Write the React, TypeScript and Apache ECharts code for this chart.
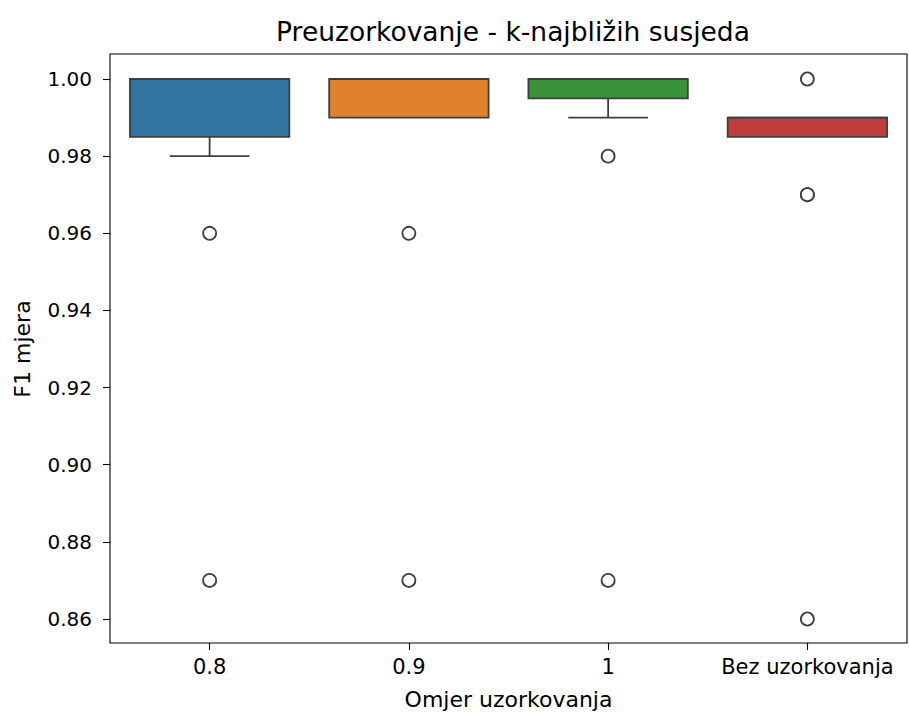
import React, { useEffect, useRef } from "react";
import * as echarts from "echarts";

const categories = ["0.8", "0.9", "1", "Bez uzorkovanja"];
// [lower whisker, Q1, median, Q3, upper whisker]
const lowerWhisker = [0.98, 0.99, 0.99, 0.985];
const q1Values = [0.985, 0.99, 0.995, 0.985];
const medianValues = [1.0, 1.0, 1.0, 0.99];
const q3Values = [1.0, 1.0, 1.0, 0.99];
const upperWhisker = [1.0, 1.0, 1.0, 0.99];
const outliers: number[][] = [
  [0.96, 0.87],
  [0.96, 0.87],
  [0.98, 0.87],
  [1.0, 0.97, 0.97, 0.86],
];
const yTicks = { min: 0.86, max: 1.0, step: 0.02 };

const palette = ["#3274a1", "#e1812c", "#3a923a", "#c03d3e"];
const edge = "#3f3f3f";
const font = "DejaVu Sans";

export default function App() {
  const ref = useRef<HTMLDivElement>(null);
  useEffect(() => {
    if (!ref.current) return;
    const chart = echarts.init(ref.current, undefined, { renderer: "svg" });
    const boxData = categories.map((_, i) => [
      i,
      lowerWhisker[i],
      q1Values[i],
      medianValues[i],
      q3Values[i],
      upperWhisker[i],
    ]);
    const outlierData: number[][] = [];
    outliers.forEach((vals, i) => vals.forEach((v) => outlierData.push([i, v])));

    const lw = 1.8;
    chart.setOption({
      animation: false,
      backgroundColor: "#ffffff",
      textStyle: { fontFamily: font, color: "#000" },
      title: {
        text: "Preuzorkovanje - k-najbližih susjeda",
        left: 508,
        top: 13,
        textAlign: "center",
        textStyle: { fontFamily: font, fontSize: 26.5, fontWeight: "normal", color: "#000" },
      },
      grid: [
        { left: 110, right: 2, top: 79, bottom: 96 },
        {
          left: 110,
          right: 2,
          top: 54,
          bottom: 68,
          show: true,
          borderColor: "#000",
          borderWidth: 1.1,
          backgroundColor: "transparent",
        },
      ],
      xAxis: [
        { type: "category", gridIndex: 0, data: categories, show: false },
        {
          type: "category",
          gridIndex: 1,
          data: categories,
          axisLine: { show: false },
          axisTick: { show: true, alignWithLabel: true, length: 7, lineStyle: { color: "#000", width: 1.1 } },
          axisLabel: { fontFamily: font, fontSize: 21, color: "#000", margin: 13, interval: 0 },
          name: "Omjer uzorkovanja",
          nameLocation: "middle",
          nameGap: 45,
          nameTextStyle: { fontFamily: font, fontSize: 22, color: "#000" },
        },
      ],
      yAxis: [
        {
          type: "value",
          gridIndex: 0,
          min: yTicks.min,
          max: yTicks.max,
          interval: yTicks.step,
          axisLine: { show: false },
          splitLine: { show: false },
          axisTick: { show: true, length: 7, lineStyle: { color: "#000", width: 1.1 } },
          axisLabel: {
            fontFamily: font,
            fontSize: 20,
            color: "#000",
            margin: 18,
            formatter: (v: number) => v.toFixed(2),
          },
          name: "F1 mjera",
          nameLocation: "middle",
          nameGap: 77,
          nameTextStyle: { fontFamily: font, fontSize: 22, color: "#000" },
        },
        { type: "value", gridIndex: 1, show: false, min: 0, max: 1 },
      ],
      series: [
        {
          type: "custom",
          xAxisIndex: 0,
          yAxisIndex: 0,
          clip: false,
          data: boxData,
          renderItem: (params: any, api: any) => {
            const idx = api.value(0);
            const lo = api.coord([idx, api.value(1)]);
            const q1 = api.coord([idx, api.value(2)]);
            const med = api.coord([idx, api.value(3)]);
            const q3 = api.coord([idx, api.value(4)]);
            const hi = api.coord([idx, api.value(5)]);
            const band = api.size([1, 0])[0];
            const bw = band * 0.8;
            const cw = band * 0.4;
            const x = lo[0];
            const lineStyle = { stroke: edge, lineWidth: lw };
            const children: any[] = [];
            if (Math.abs(lo[1] - q1[1]) > 0.5) {
              children.push({ type: "line", shape: { x1: x, y1: q1[1], x2: x, y2: lo[1] }, style: lineStyle });
              children.push({ type: "line", shape: { x1: x - cw / 2, y1: lo[1], x2: x + cw / 2, y2: lo[1] }, style: lineStyle });
            }
            if (Math.abs(hi[1] - q3[1]) > 0.5) {
              children.push({ type: "line", shape: { x1: x, y1: q3[1], x2: x, y2: hi[1] }, style: lineStyle });
              children.push({ type: "line", shape: { x1: x - cw / 2, y1: hi[1], x2: x + cw / 2, y2: hi[1] }, style: lineStyle });
            }
            children.push({
              type: "rect",
              shape: { x: x - bw / 2, y: q3[1], width: bw, height: q1[1] - q3[1] },
              style: { fill: palette[params.dataIndex % palette.length], stroke: edge, lineWidth: lw },
            });
            children.push({
              type: "line",
              shape: { x1: x - bw / 2, y1: med[1], x2: x + bw / 2, y2: med[1] },
              style: lineStyle,
            });
            return { type: "group", children };
          },
        },
        {
          type: "scatter",
          xAxisIndex: 0,
          yAxisIndex: 0,
          clip: false,
          data: outlierData,
          symbol: "circle",
          symbolSize: 13,
          itemStyle: { color: "#ffffff", borderColor: edge, borderWidth: 1.8, opacity: 1 },
          z: 5,
        },
      ],
    });
    return () => chart.dispose();
  }, []);
  return (
    <div
      ref={ref}
      style={{ position: "absolute", left: 0, top: 0, width: 909, height: 715 }}
    />
  );
}
